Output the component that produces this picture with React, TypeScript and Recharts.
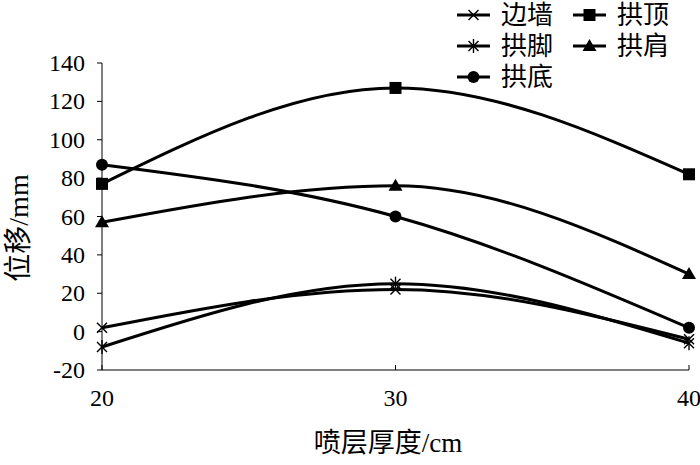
import { LineChart, Line, XAxis, YAxis, Legend } from 'recharts';

// 喷层厚度 (cm)
const thickness = [20, 30, 40];

// 位移 (mm) per location
const bianQiang = [2, 22, -4];   // 边墙
const gongJiao = [-8, 25, -6];   // 拱脚
const gongDi = [87, 60, 2];      // 拱底
const gongDing = [77, 127, 82];  // 拱顶
const gongJian = [57, 76, 30];   // 拱肩

const yTicks = [-20, 0, 20, 40, 60, 80, 100, 120, 140];
const xTicks = [20, 30, 40];

const data = thickness.map((t, i) => ({
    thickness: t,
    边墙: bianQiang[i],
    拱脚: gongJiao[i],
    拱底: gongDi[i],
    拱顶: gongDing[i],
    拱肩: gongJian[i],
}));

const FONT = "'Liberation Serif', 'Times New Roman', 'Noto Sans CJK SC', serif";

type Kind = 'cross' | 'star' | 'circle' | 'square' | 'triangle';

const series: { key: string; kind: Kind }[] = [
    { key: '边墙', kind: 'cross' },
    { key: '拱脚', kind: 'star' },
    { key: '拱底', kind: 'circle' },
    { key: '拱顶', kind: 'square' },
    { key: '拱肩', kind: 'triangle' },
];

function Marker({ kind, cx, cy }: { kind: Kind; cx: number; cy: number }) {
    if (cx == null || cy == null) return null;
    switch (kind) {
        case 'cross':
            return (
                <g stroke="#000" strokeWidth={1.4}>
                    <line x1={cx - 5} y1={cy - 5} x2={cx + 5} y2={cy + 5} />
                    <line x1={cx - 5} y1={cy + 5} x2={cx + 5} y2={cy - 5} />
                </g>
            );
        case 'star':
            return (
                <g stroke="#000" strokeWidth={1.4}>
                    <line x1={cx - 5} y1={cy - 5} x2={cx + 5} y2={cy + 5} />
                    <line x1={cx - 5} y1={cy + 5} x2={cx + 5} y2={cy - 5} />
                    <line x1={cx} y1={cy - 7} x2={cx} y2={cy + 7} />
                </g>
            );
        case 'circle':
            return <circle cx={cx} cy={cy} r={6} fill="#000" />;
        case 'square':
            return <rect x={cx - 6} y={cy - 6} width={12} height={12} fill="#000" />;
        case 'triangle':
            return <polygon points={`${cx},${cy - 7} ${cx - 7},${cy + 5} ${cx + 7},${cy + 5}`} fill="#000" />;
    }
    return null;
}

// legend laid out in two columns like the original
const legendPos: Record<string, { x: number; y: number }> = {
    边墙: { x: 457, y: 15 },
    拱脚: { x: 457, y: 46 },
    拱底: { x: 457, y: 77 },
    拱顶: { x: 573, y: 15 },
    拱肩: { x: 573, y: 46 },
};

function LegendContent() {
    return (
        <svg width={700} height={95} style={{ display: 'block' }}>
            {series.map((s) => {
                const p = legendPos[s.key];
                return (
                    <g key={s.key}>
                        <line x1={p.x} y1={p.y} x2={p.x + 33} y2={p.y} stroke="#000" strokeWidth={3} />
                        <Marker kind={s.kind} cx={p.x + 16.5} cy={p.y} />
                        <text x={p.x + 44} y={p.y} dominantBaseline="central" fontSize={26} fontFamily={FONT} fill="#000">
                            {s.key}
                        </text>
                    </g>
                );
            })}
        </svg>
    );
}

function XTick({ x, y, payload }: any) {
    return (
        <g>
            <line x1={x} y1={y} x2={x} y2={y - 5} stroke="#000" strokeWidth={1} />
            <text x={x} y={y + 36} textAnchor="middle" fontSize={24} fontFamily={FONT} fill="#000">
                {payload.value}
            </text>
        </g>
    );
}

function YTick({ x, y, payload }: any) {
    return (
        <text x={x} y={y} textAnchor="end" dominantBaseline="central" fontSize={24} fontFamily={FONT} fill="#000">
            {payload.value}
        </text>
    );
}

export default function App() {
    return (
        <div style={{ position: 'absolute', left: 0, top: 0, width: 700, height: 465, background: '#fff' }}>
            <LineChart width={700} height={465} data={data} margin={{ top: 63, right: 11, left: 0, bottom: 0 }}>
                <XAxis
                    dataKey="thickness"
                    type="number"
                    domain={[20, 40]}
                    ticks={xTicks}
                    height={95}
                    tickLine={false}
                    tickSize={0}
                    tickMargin={0}
                    axisLine={{ stroke: '#000', strokeWidth: 1 }}
                    tick={<XTick />}
                    label={{
                        content: () => (
                            <text x={388} y={443} textAnchor="middle" dominantBaseline="central" fontSize={27} fontFamily={FONT} fill="#000">
                                喷层厚度/cm
                            </text>
                        ),
                    }}
                />
                <YAxis
                    type="number"
                    domain={[-20, 140]}
                    ticks={yTicks}
                    width={102}
                    tickSize={5}
                    tickMargin={12}
                    axisLine={{ stroke: '#000', strokeWidth: 1 }}
                    tickLine={{ stroke: '#000', strokeWidth: 1 }}
                    tick={<YTick />}
                    label={{
                        content: () => (
                            <text transform="translate(18,228) rotate(-90)" textAnchor="middle" dominantBaseline="central" fontSize={28} fontFamily={FONT} fill="#000">
                                位移/mm
                            </text>
                        ),
                    }}
                />
                <Legend
                    layout="horizontal"
                    verticalAlign="middle"
                    align="center"
                    content={<LegendContent />}
                    wrapperStyle={{ position: 'absolute', left: 0, top: 0, width: 700, height: 95, pointerEvents: 'none' }}
                />
                {series.map((s) => (
                    <Line
                        key={s.key}
                        type="monotone"
                        dataKey={s.key}
                        stroke="#000"
                        strokeWidth={3}
                        isAnimationActive={false}
                        dot={(props: any) => <Marker key={`${s.key}-${props.index}`} kind={s.kind} cx={props.cx} cy={props.cy} />}
                        activeDot={false}
                    />
                ))}
            </LineChart>
        </div>
    );
}
